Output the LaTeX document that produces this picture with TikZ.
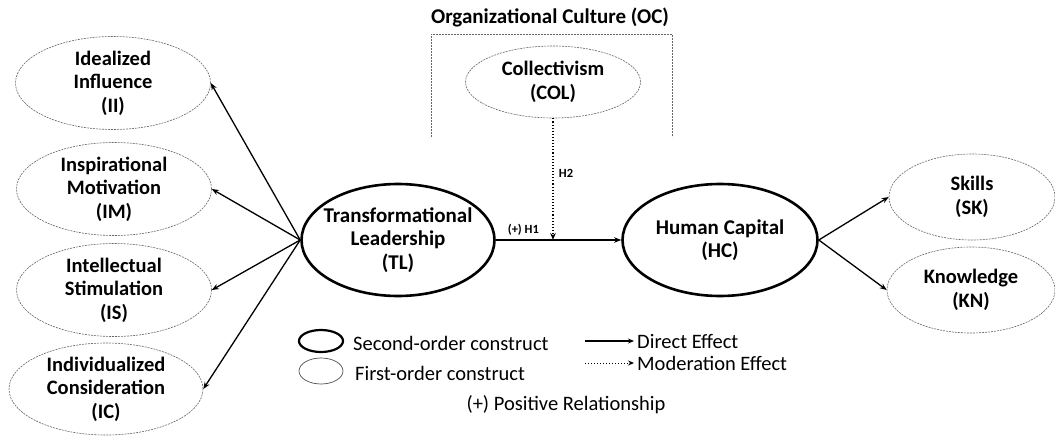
\documentclass[tikz,border=0pt]{standalone}
\usepackage{fontspec}
\setmainfont{Carlito}
\usetikzlibrary{shapes.geometric,arrows.meta}
\begin{document}
\begin{tikzpicture}[x=1pt,y=-1pt,
  first/.style={ellipse,draw=black!60,line width=0.6pt,dash pattern=on 2pt off 1pt,inner sep=0pt,align=center,font=\fontsize{20.5}{23.5}\selectfont\bfseries},
  second/.style={ellipse,draw=black,line width=2.6pt,inner sep=0pt,inner xsep=-12pt,align=center,font=\fontsize{21}{23.5}\selectfont\bfseries},
  arr/.style={line width=1.3pt,-{Stealth[length=7pt,width=5.5pt]}},
  modarr/.style={line width=1.1pt,dotted,-{Stealth[length=7pt,width=5.5pt]}},
  lbl/.style={font=\fontsize{12.5}{14}\selectfont\bfseries},
  leg/.style={font=\fontsize{20.5}{23}\selectfont,anchor=west,inner sep=0pt},
  box/.style={draw=black!60,line width=0.7pt,dash pattern=on 2pt off 1pt}]
\useasboundingbox (0,0) rectangle (1055,436);
% first-order, left
\node[first,minimum width=195pt,minimum height=93pt] (II) at (113,83) {Idealized\\Influence\\(II)};
\node[first,minimum width=195pt,minimum height=93pt] (IM) at (114,189) {Inspirational\\Motivation\\(IM)};
\node[first,minimum width=195pt,minimum height=93pt] (IS) at (114,290) {Intellectual\\Stimulation\\(IS)};
\node[first,minimum width=194pt,minimum height=92pt] (IC) at (106,389) {Individualized\\Consideration\\(IC)};
% second-order
\node[second,minimum width=193pt,minimum height=112pt] (TL) at (398,240) {Transformational\\Leadership\\(TL)};
\node[second,minimum width=195pt,minimum height=112pt] (HC) at (720,240) {Human Capital\\(HC)};
% right
\node[first,minimum width=166pt,minimum height=86pt] (SK) at (972,197) {Skills\\(SK)};
\node[first,minimum width=168pt,minimum height=86pt] (KN) at (971,290) {Knowledge\\(KN)};
% moderator
\node[first,minimum width=175pt,minimum height=72pt] (COL) at (553,82) {Collectivism\\(COL)};
\draw[box] (431,137) -- (431,34) -- (672,34) -- (672,137);
\node[font=\fontsize{21}{24}\selectfont\bfseries] (OC) at (550,17) {Organizational Culture (OC)};
% arrows
\draw[arr] (TL.west) -- (II.east);
\draw[arr] (TL.west) -- (IM.east);
\draw[arr] (TL.west) -- (IS.east);
\draw[arr] (TL.west) -- (IC.east);
\draw[arr] (TL.east) -- (HC.west) node[pos=0.22,above=1pt,lbl] (H1) {(+) H1};
\coordinate (m) at (COL.south |- TL.east);
\draw[modarr] (COL.south) -- (m) node[pos=0.45,right=2pt,lbl] (H2) {H2};
\draw[arr] (HC.east) -- (SK.west);
\draw[arr] (HC.east) -- (KN.west);
% legend
\node[ellipse,draw,line width=2.2pt,minimum width=44pt,minimum height=22pt,inner sep=0pt] (L2) at (321,341) {};
\node[ellipse,draw=black!70,line width=0.7pt,minimum width=44pt,minimum height=26pt,inner sep=0pt] (L1) at (321,371) {};
\node[leg] (T2) at (353,343) {Second-order construct};
\node[leg] (T1) at (355,373) {First-order construct};
\coordinate (d1) at (585,341);
\coordinate (d2) at (634,341);
\coordinate (m1) at (585,363);
\coordinate (m2) at (634,363);
\draw[line width=1.1pt,-{Stealth[length=6pt,width=5pt]}] (d1) -- (d2);
\draw[line width=1pt,dotted,-{Stealth[length=6pt,width=5pt]}] (m1) -- (m2);
\node[leg] (TD) at (637,341) {Direct Effect};
\node[leg] (TM) at (637,363) {Moderation Effect};
\node[font=\fontsize{20.5}{23}\selectfont] (TP) at (566,405) {(+) Positive Relationship};
\end{tikzpicture}
\end{document}
